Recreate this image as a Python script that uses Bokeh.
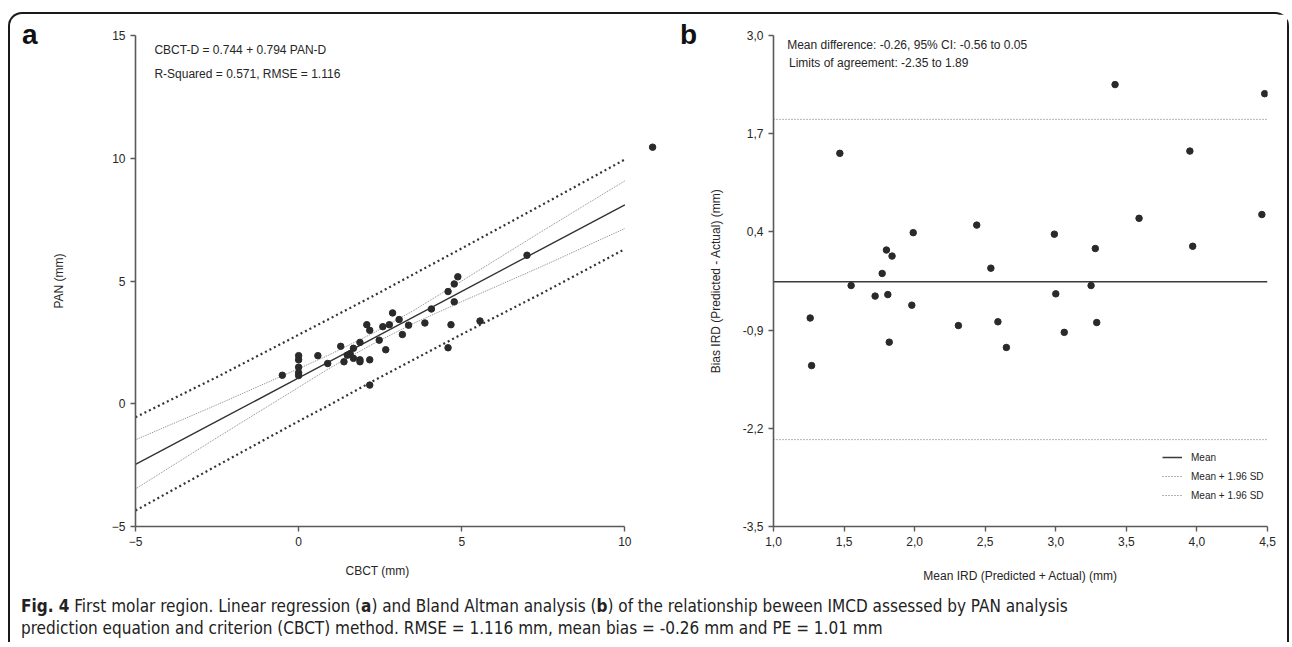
from bokeh.plotting import figure
from bokeh.layouts import row, column
from bokeh.models import Label, FixedTicker, CustomJSTickFormatter, Legend, LegendItem, Div, Title
from bokeh.embed import file_html
from bokeh.resources import INLINE

# ---------------- Panel a: linear regression ----------------
cbct_mm = [7.0, 4.88, 4.77, 4.58, 4.77, 4.67, 4.58, 5.56, 4.07, 3.87, 3.37, 3.08, 3.18,
           2.88, 2.78, 2.58, 2.47, 2.67, 2.09, 2.18, 1.88, 1.68, 1.58, 1.49, 1.68, 1.88,
           1.88, 2.18, 1.29, 1.39, 0.89, 0.59, 0.0, 0.0, 0.0, 0.0, 0.0, -0.50, 2.18, 10.85]
pan_mm = [6.05, 5.17, 4.88, 4.57, 4.15, 3.22, 2.28, 3.37, 3.86, 3.29, 3.20, 3.43, 2.82,
          3.70, 3.22, 3.14, 2.59, 2.20, 3.22, 2.99, 2.50, 2.26, 2.04, 1.98, 1.85, 1.79,
          1.71, 1.79, 2.34, 1.71, 1.64, 1.96, 1.96, 1.79, 1.49, 1.26, 1.15, 1.16, 0.76, 10.45]

band_x = [-5, -2.5, 0, 1, 2.3, 3.5, 5, 7.5, 10]
fit_y = [-2.47, -0.71, 1.05, 1.76, 2.67, 3.52, 4.58, 6.34, 8.10]
ci_high = [-1.47, -0.04, 1.43, 2.03, 2.89, 3.78, 5.00, 7.06, 9.08]
ci_low = [-3.47, -1.38, 0.67, 1.49, 2.45, 3.26, 4.16, 5.62, 7.14]
pi_high = [-0.55, 1.09, 2.81, 3.50, 4.40, 5.26, 6.33, 8.13, 9.95]
pi_low = [-4.35, -2.52, -0.71, -0.01, 0.94, 1.78, 2.83, 4.53, 6.30]

a_x_ticks = [-5, 0, 5, 10]
a_y_ticks = [-5, 0, 5, 10, 15]
a_text = ["CBCT-D = 0.744 + 0.794 PAN-D", "R-Squared = 0.571, RMSE = 1.116"]

# ---------------- Panel b: Bland-Altman ----------------
mean_ird = [3.42, 4.48, 1.47, 3.95, 3.59, 4.46, 2.44, 1.99, 2.99, 3.28, 3.97, 1.80, 1.84,
            1.77, 2.54, 1.55, 1.72, 1.81, 1.98, 3.00, 3.25, 1.26, 1.27, 1.82, 2.31, 2.59,
            2.65, 3.06, 3.29]
bias_ird = [2.35, 2.23, 1.44, 1.47, 0.58, 0.63, 0.49, 0.39, 0.37, 0.18, 0.21, 0.16, 0.08,
            -0.15, -0.08, -0.31, -0.45, -0.43, -0.57, -0.42, -0.31, -0.74, -1.37, -1.06, -0.84,
            -0.79, -1.13, -0.93, -0.80]
mean_diff = -0.26
loa_low = -2.35
loa_high = 1.89
b_x_ticks = [1.0, 1.5, 2.0, 2.5, 3.0, 3.5, 4.0, 4.5]
b_y_ticks = [-3.5, -2.2, -0.9, 0.4, 1.7, 3.0]
b_text = ["Mean difference: -0.26, 95% CI: -0.56 to 0.05", "Limits of agreement: -2.35 to 1.89"]
legend_labels = ["Mean", "Mean + 1.96 SD", "Mean + 1.96 SD"]

panel_letters = ["a", "b"]
caption_html = ("<b>Fig. 4</b> First molar region. Linear regression (<b>a</b>) and Bland Altman analysis "
                "(<b>b</b>) of the relationship beween IMCD assessed by PAN analysis<br>"
                "prediction equation and criterion (CBCT) method. RMSE = 1.116 mm, mean bias = -0.26 mm "
                "and PE = 1.01 mm")

FONT = "Liberation Sans"
AX = "#5a5a5a"
TXT = "#262626"
DOT = "#2a2a2a"
PANEL_H = 578


def style(p, xlabel, ylabel, y_standoff, x_standoff):
    p.grid.visible = False
    p.outline_line_color = None
    p.background_fill_color = "white"
    p.border_fill_color = "white"
    for ax in (p.xaxis[0], p.yaxis[0]):
        ax.axis_line_color = AX
        ax.axis_line_width = 1.6
        ax.major_tick_line_color = AX
        ax.major_tick_line_width = 1.4
        ax.major_tick_out = 5
        ax.major_tick_in = 0
        ax.minor_tick_line_color = None
        ax.major_label_text_font = FONT
        ax.major_label_text_font_size = "12px"
        ax.major_label_text_color = TXT
        ax.major_label_standoff = 5
        ax.axis_label_text_font = FONT
        ax.axis_label_text_font_size = "12px"
        ax.axis_label_text_font_style = "normal"
        ax.axis_label_text_color = TXT
    if xlabel:
        p.xaxis.axis_label = xlabel
        p.xaxis.axis_label_standoff = x_standoff
    p.yaxis.axis_label = ylabel
    p.yaxis.axis_label_standoff = y_standoff


def letter_div(letter, w, left):
    return Div(text=('<span style="display:inline-block;margin:7px 0 0 %dpx;font-family:\'Liberation Sans\';'
                     'font-weight:bold;font-size:28px;line-height:28px;color:#111111">%s</span>') % (left, letter),
               width=w, height=PANEL_H, margin=0)


# ---- panel a figure ----
pa = figure(width=622, height=PANEL_H, x_range=(-5, 11), y_range=(-5, 15),
            output_backend="svg", toolbar_location=None,
            min_border_left=83, min_border_right=13, min_border_top=21, min_border_bottom=66)
style(pa, None, "PAN (mm)", 43, 20)
pa.xaxis.ticker = FixedTicker(ticks=a_x_ticks)
pa.yaxis.ticker = FixedTicker(ticks=a_y_ticks)
pa.xaxis.bounds = (a_x_ticks[0], a_x_ticks[-1])
pa.yaxis.bounds = (a_y_ticks[0], a_y_ticks[-1])
# x-axis title, centred under the bounded axis (-5..10) rather than the whole frame
pa.add_layout(Title(text="CBCT (mm)", align="left", offset=210, standoff=27,
                    text_font=FONT, text_font_size="12px", text_font_style="normal",
                    text_color=TXT), "below")

pa.line(band_x, pi_high, line_color="#333333", line_width=2.2, line_dash="2 3")
pa.line(band_x, pi_low, line_color="#333333", line_width=2.2, line_dash="2 3")
pa.line(band_x, ci_high, line_color="#8a8a8a", line_width=1, line_dash="1 1")
pa.line(band_x, ci_low, line_color="#8a8a8a", line_width=1, line_dash="1 1")
pa.line(band_x, fit_y, line_color="#333333", line_width=1.4)
pa.scatter(cbct_mm, pan_mm, size=6.5, fill_color=DOT, line_color=DOT)

pa.add_layout(Label(x=-4.42, y=14.39, text=a_text[0], text_font=FONT, text_font_size="12px",
                    text_baseline="middle", text_color=TXT))
pa.add_layout(Label(x=-4.42, y=13.45, text=a_text[1], text_font=FONT, text_font_size="12px",
                    text_baseline="middle", text_color=TXT))

# ---- panel b figure ----
pb = figure(width=587, height=PANEL_H, x_range=(b_x_ticks[0], b_x_ticks[-1]),
            y_range=(b_y_ticks[0], b_y_ticks[-1]),
            output_backend="svg", toolbar_location=None,
            min_border_left=73, min_border_right=20, min_border_top=21, min_border_bottom=66)
style(pb, "Mean IRD (Predicted + Actual) (mm)", "Bias IRD (Predicted - Actual) (mm)", 17, 20)
pb.xaxis.ticker = FixedTicker(ticks=b_x_ticks)
pb.yaxis.ticker = FixedTicker(ticks=b_y_ticks)
pb.xaxis.formatter = CustomJSTickFormatter(code="return tick.toFixed(1).replace('.', ',');")
pb.yaxis.formatter = CustomJSTickFormatter(code="return tick.toFixed(1).replace('.', ',');")

xr = [b_x_ticks[0], b_x_ticks[-1]]
r_mean = pb.line(xr, [mean_diff, mean_diff], line_color="#3a3a3a", line_width=1.5)
r_hi = pb.line(xr, [loa_high, loa_high], line_color="#6a6a6a", line_width=1, line_dash="1 2")
r_lo = pb.line(xr, [loa_low, loa_low], line_color="#6a6a6a", line_width=1, line_dash="1 2")
pb.scatter(mean_ird, bias_ird, size=6.5, fill_color=DOT, line_color=DOT)

pb.add_layout(Label(x=1.097, y=2.88, text=b_text[0], text_font=FONT, text_font_size="12px",
                    text_baseline="middle", text_color=TXT))
pb.add_layout(Label(x=1.11, y=2.63, text=b_text[1], text_font=FONT, text_font_size="12px",
                    text_baseline="middle", text_color=TXT))

legend = Legend(items=[LegendItem(label=legend_labels[0], renderers=[r_mean]),
                       LegendItem(label=legend_labels[1], renderers=[r_hi]),
                       LegendItem(label=legend_labels[2], renderers=[r_lo])],
                location=(389, 22), padding=0, margin=0, spacing=1,
                glyph_width=20, glyph_height=18, label_height=18, label_standoff=9,
                label_text_font=FONT, label_text_font_size="10px", label_text_color=TXT,
                border_line_alpha=0, background_fill_alpha=0)
pb.add_layout(legend)

cap = Div(text=caption_html, width=1277, height=50, margin=0,
          styles={"font-family": "'Liberation Sans Narrow', 'DejaVu Sans Condensed', sans-serif",
                  "font-size": "17px", "line-height": "22px", "color": "#222222",
                  "padding-left": "11px", "padding-top": "3px", "white-space": "nowrap"})

layout = column(row(letter_div(panel_letters[0], 38, 12), pa, letter_div(panel_letters[1], 30, 10), pb), cap,
                styles={"border": "2px solid #1a1a1a", "border-bottom": "none",
                        "border-radius": "14px 14px 0 0", "margin-top": "12px", "margin-left": "8px"})

open("out.html", "w").write(file_html(layout, INLINE))
